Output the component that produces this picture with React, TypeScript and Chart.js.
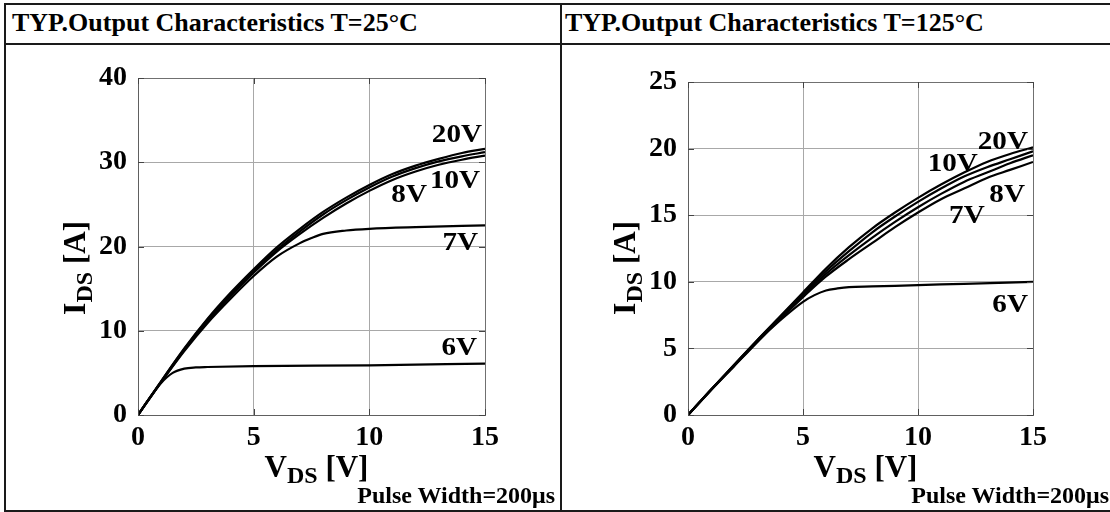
import React, { useEffect, useRef } from "react";
import { Chart, registerables } from "chart.js";
Chart.register(...registerables);

const SERIF = "'Liberation Serif', 'Times New Roman', Times, serif";

// ---------- T = 25°C ----------
const vds25Main = [0, 1, 2, 3, 4, 5, 6, 7, 8, 9, 10, 11, 12, 13, 14, 15];
const id25Vgs20 = [0, 4.0, 7.9, 11.4, 14.5, 17.3, 19.9, 22.1, 24.1, 25.8, 27.3, 28.6, 29.6, 30.4, 31.1, 31.6];
const id25Vgs10 = [0, 4.0, 7.8, 11.3, 14.3, 17.1, 19.6, 21.8, 23.8, 25.5, 27.0, 28.3, 29.3, 30.1, 30.7, 31.2];
const id25Vgs8 = [0, 3.9, 7.7, 11.1, 14.1, 16.9, 19.4, 21.5, 23.4, 25.1, 26.6, 27.9, 28.9, 29.7, 30.3, 30.8];
const vds25Vgs7 = [0, 1, 2, 3, 4, 5, 6, 7, 7.5, 8, 9, 10, 12, 15];
const id25Vgs7 = [0, 3.9, 7.6, 10.9, 13.8, 16.5, 18.8, 20.4, 21.0, 21.5, 21.9, 22.1, 22.3, 22.5];
const vds25Vgs6 = [0, 0.5, 1, 1.5, 2, 2.5, 3, 5, 10, 15];
const id25Vgs6 = [0, 2.0, 3.8, 5.0, 5.5, 5.65, 5.7, 5.8, 5.9, 6.1];

const curveLabels25 = ["20V", "10V", "8V", "7V", "6V"];
const curveLabelX25 = [14.87, 14.79, 12.49, 14.7, 14.66];
const curveLabelY25 = [32.4, 26.9, 25.3, 19.6, 7.1];

// ---------- T = 125°C ----------
const vds125Main = [0, 1, 2, 3, 4, 5, 6, 7, 8, 9, 10, 11, 12, 13, 14, 15];
const id125Vgs20 = [0, 1.9, 3.75, 5.6, 7.4, 9.2, 11.0, 12.6, 14.0, 15.2, 16.3, 17.3, 18.2, 19.0, 19.6, 20.1];
const id125Vgs10 = [0, 1.9, 3.75, 5.6, 7.35, 9.1, 10.8, 12.3, 13.7, 14.9, 16.0, 17.0, 17.9, 18.6, 19.2, 19.8];
const id125Vgs8 = [0, 1.9, 3.7, 5.5, 7.3, 9.0, 10.6, 12.0, 13.3, 14.5, 15.6, 16.6, 17.5, 18.2, 18.9, 19.5];
const id125Vgs7 = [0, 1.85, 3.65, 5.45, 7.2, 8.85, 10.4, 11.7, 12.9, 14.1, 15.2, 16.2, 17.0, 17.8, 18.4, 19.0];
const vds125Vgs6 = [0, 1, 2, 3, 4, 5, 5.5, 6, 6.5, 7, 8, 10, 12, 15];
const id125Vgs6 = [0, 1.9, 3.7, 5.5, 7.1, 8.5, 9.0, 9.35, 9.5, 9.6, 9.65, 9.75, 9.85, 10.0];

const curveLabels125 = ["20V", "10V", "8V", "7V", "6V"];
const curveLabelX125 = [14.78, 12.6, 14.65, 12.9, 14.78];
const curveLabelY125 = [20.0, 18.3, 16.0, 14.4, 7.7];

const xTicks = [0, 5, 10, 15];

type SeriesSpec = { x: number[]; y: number[] };
type PanelSpec = {
  series: SeriesSpec[];
  yMax: number;
  yStep: number;
  padTop: number;
  padRight: number;
  yAxisWidth: number;
  labels: string[];
  labelX: number[];
  labelY: number[];
};

const panel25: PanelSpec = {
  series: [
    { x: vds25Main, y: id25Vgs20 },
    { x: vds25Main, y: id25Vgs10 },
    { x: vds25Main, y: id25Vgs8 },
    { x: vds25Vgs7, y: id25Vgs7 },
    { x: vds25Vgs6, y: id25Vgs6 },
  ],
  yMax: 40,
  yStep: 10,
  padTop: 34,
  padRight: 75,
  yAxisWidth: 138,
  labels: curveLabels25,
  labelX: curveLabelX25,
  labelY: curveLabelY25,
};

const panel125: PanelSpec = {
  series: [
    { x: vds125Main, y: id125Vgs20 },
    { x: vds125Main, y: id125Vgs10 },
    { x: vds125Main, y: id125Vgs8 },
    { x: vds125Main, y: id125Vgs7 },
    { x: vds125Vgs6, y: id125Vgs6 },
  ],
  yMax: 25,
  yStep: 5,
  padTop: 38,
  padRight: 77,
  yAxisWidth: 128,
  labels: curveLabels125,
  labelX: curveLabelX125,
  labelY: curveLabelY125,
};

type Part = { t: string; size: number; drop: number };

function drawParts(ctx: CanvasRenderingContext2D, parts: Part[], cx: number, baseY: number) {
  let total = 0;
  const widths: number[] = [];
  for (const p of parts) {
    ctx.font = `bold ${p.size}px ${SERIF}`;
    const w = ctx.measureText(p.t).width;
    widths.push(w);
    total += w;
  }
  let x = cx - total / 2;
  ctx.textAlign = "left";
  ctx.textBaseline = "alphabetic";
  parts.forEach((p, i) => {
    ctx.font = `bold ${p.size}px ${SERIF}`;
    ctx.fillText(p.t, x, baseY + p.drop);
    x += widths[i];
  });
}

function makeTextPlugin(spec: PanelSpec) {
  return {
    id: "panelText",
    afterDraw(chart: any) {
      const ctx: CanvasRenderingContext2D = chart.ctx;
      const area = chart.chartArea;
      const xs = chart.scales.x;
      const ys = chart.scales.y;
      ctx.save();
      // inner tick marks
      ctx.strokeStyle = "#444";
      ctx.lineWidth = 1;
      ctx.beginPath();
      for (const v of xTicks) {
        const px = Math.round(xs.getPixelForValue(v)) + 0.5;
        ctx.moveTo(px, area.top);
        ctx.lineTo(px, area.top + 6);
        ctx.moveTo(px, area.bottom);
        ctx.lineTo(px, area.bottom - 6);
      }
      for (let v = 0; v <= spec.yMax; v += spec.yStep) {
        const py = Math.round(ys.getPixelForValue(v)) + 0.5;
        ctx.moveTo(area.left, py);
        ctx.lineTo(area.left + 6, py);
        ctx.moveTo(area.right, py);
        ctx.lineTo(area.right - 6, py);
      }
      ctx.stroke();

      ctx.fillStyle = "#000";
      // curve labels
      const stretch = 1.12;
      ctx.font = `bold 26px ${SERIF}`;
      ctx.textAlign = "right";
      ctx.textBaseline = "alphabetic";
      spec.labels.forEach((lab, i) => {
        const px = xs.getPixelForValue(spec.labelX[i]);
        const py = ys.getPixelForValue(spec.labelY[i]);
        ctx.save();
        ctx.translate(px, py);
        ctx.scale(stretch, 1);
        ctx.fillText(lab, 0, 0);
        ctx.restore();
      });

      // x axis title
      const xCenter = (area.left + area.right) / 2 + 5;
      drawParts(
        ctx,
        [
          { t: "V", size: 31, drop: 0 },
          { t: "DS", size: 24, drop: 6 },
          { t: " [V]", size: 31, drop: 0 },
        ],
        xCenter,
        area.bottom + 62
      );

      // y axis title (rotated)
      ctx.save();
      ctx.translate(area.left - 53, area.bottom - 147);
      ctx.rotate(-Math.PI / 2);
      drawParts(
        ctx,
        [
          { t: "I", size: 32, drop: 0 },
          { t: "DS", size: 24, drop: 7 },
          { t: " [A]", size: 31, drop: 0 },
        ],
        0,
        0
      );
      ctx.restore();
      ctx.restore();
    },
  };
}

function makeConfig(spec: PanelSpec): any {
  const edgeX = (c: any) =>
    c.tick && (c.tick.value === 0 || c.tick.value === 15) ? "#707070" : "#a8a8a8";
  const edgeY = (c: any) =>
    c.tick && (c.tick.value === 0 || c.tick.value === spec.yMax) ? "#707070" : "#a8a8a8";
  return {
    type: "line",
    data: {
      datasets: spec.series.map((s) => ({
        data: s.x.map((x, i) => ({ x, y: s.y[i] })),
        borderColor: "#000",
        borderWidth: 2.2,
        pointRadius: 0,
        fill: false,
        cubicInterpolationMode: "monotone",
      })),
    },
    options: {
      animation: false,
      responsive: false,
      maintainAspectRatio: false,
      devicePixelRatio: 1,
      layout: { padding: { left: 0, top: spec.padTop, right: spec.padRight, bottom: 0 } },
      plugins: { legend: { display: false }, tooltip: { enabled: false } },
      scales: {
        x: {
          type: "linear",
          min: 0,
          max: 15,
          ticks: {
            stepSize: 5,
            color: "#000",
            padding: 6,
            font: { family: SERIF, size: 28, weight: "bold" },
          },
          grid: { color: edgeX, lineWidth: 1, drawTicks: false },
          border: { color: "#606060", width: 1 },
          afterFit: (s: any) => {
            s.height = 97;
          },
        },
        y: {
          type: "linear",
          min: 0,
          max: spec.yMax,
          ticks: {
            stepSize: spec.yStep,
            color: "#000",
            padding: 11,
            font: { family: SERIF, size: 28, weight: "bold" },
          },
          grid: { color: edgeY, lineWidth: 1, drawTicks: false },
          border: { color: "#606060", width: 1 },
          afterFit: (s: any) => {
            s.width = spec.yAxisWidth;
          },
        },
      },
    },
    plugins: [makeTextPlugin(spec)],
  };
}

const line = (style: React.CSSProperties): React.CSSProperties => ({
  position: "absolute",
  background: "#1a1a1a",
  ...style,
});

export default function App() {
  const leftRef = useRef<HTMLCanvasElement | null>(null);
  const rightRef = useRef<HTMLCanvasElement | null>(null);

  useEffect(() => {
    document.body.style.margin = "0";
    const charts: Chart[] = [];
    if (leftRef.current) charts.push(new Chart(leftRef.current, makeConfig(panel25)));
    if (rightRef.current) charts.push(new Chart(rightRef.current, makeConfig(panel125)));
    return () => charts.forEach((c) => c.destroy());
  }, []);

  const headerStyle: React.CSSProperties = {
    position: "absolute",
    top: 10,
    fontFamily: SERIF,
    fontWeight: "bold",
    fontSize: 26,
    lineHeight: "26px",
    whiteSpace: "nowrap",
    color: "#000",
  };
  const pulseStyle: React.CSSProperties = {
    position: "absolute",
    top: 483,
    fontFamily: SERIF,
    fontWeight: "bold",
    fontSize: 24,
    lineHeight: "24px",
    whiteSpace: "nowrap",
    textAlign: "right",
    color: "#000",
  };

  return (
    <div
      style={{
        position: "relative",
        width: 1110,
        height: 512,
        background: "#fff",
        overflow: "hidden",
      }}
    >
      <canvas
        ref={leftRef}
        width={560}
        height={468}
        style={{ position: "absolute", left: 0, top: 44, width: 560, height: 468 }}
      />
      <canvas
        ref={rightRef}
        width={550}
        height={468}
        style={{ position: "absolute", left: 560, top: 44, width: 550, height: 468 }}
      />
      <div style={line({ left: 4, top: 3, width: 1110, height: 2 })} />
      <div style={line({ left: 4, top: 3, width: 2, height: 509 })} />
      <div style={line({ left: 4, top: 510, width: 1110, height: 2 })} />
      <div style={line({ left: 4, top: 43, width: 1110, height: 2 })} />
      <div style={line({ left: 560, top: 3, width: 2, height: 509 })} />
      <div style={{ ...headerStyle, left: 12 }}>TYP.Output Characteristics T=25°C</div>
      <div style={{ ...headerStyle, left: 565 }}>TYP.Output Characteristics T=125°C</div>
      <div style={{ ...pulseStyle, left: 0, width: 555 }}>Pulse Width=200μs</div>
      <div style={{ ...pulseStyle, left: 560, width: 549 }}>Pulse Width=200μs</div>
    </div>
  );
}
